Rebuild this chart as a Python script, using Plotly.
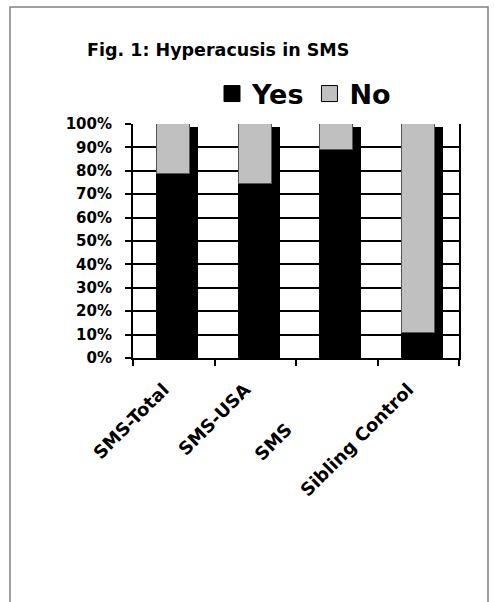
import plotly.graph_objects as go

# ---- data ----
categories = ["SMS-Total", "SMS-USA", "SMS", "Sibling Control"]
yes_pct = [78.5, 74.5, 89.0, 10.5]
no_pct = [21.5, 25.5, 11.0, 89.5]
series_names = ["Yes", "No"]
y_ticks = [0, 10, 20, 30, 40, 50, 60, 70, 80, 90, 100]
y_tick_labels = [f"{v}%" for v in y_ticks]
title_text = "Fig. 1: Hyperacusis in SMS"

# ---- layout geometry (pixels) ----
W, H = 494, 602
PL, PR, PT, PB = 133, 459, 124, 358   # plot area edges


def px_x(p):
    return (p - PL) / (PR - PL)


def px_y(p):
    return (PB - p) / (PB - PT)


FONT = "DejaVu Sans"
BAR_W = 0.405
SHADOW_DX = 0.098   # in category units
SHADOW_DY = 1.3     # in percent units

totals = [a + b for a, b in zip(yes_pct, no_pct)]
# x labels: third label padded so it sits like the original
tick_text = [c if c != "SMS" else c + "\u00a0" * 9 for c in categories]

fig = go.Figure()

# shadow (3-D effect)
fig.add_trace(go.Bar(
    x=categories, y=totals, base=[-SHADOW_DY] * len(totals),
    width=BAR_W, offset=-BAR_W / 2 + SHADOW_DX,
    marker=dict(color="black", line=dict(width=0)),
    showlegend=False, hoverinfo="skip",
))
# Yes
fig.add_trace(go.Bar(
    x=categories, y=yes_pct, base=[0] * len(yes_pct),
    width=BAR_W, offset=-BAR_W / 2,
    marker=dict(color="black", line=dict(color="black", width=1)),
    name=series_names[0], showlegend=False,
))
# No
fig.add_trace(go.Bar(
    x=categories, y=no_pct, base=yes_pct,
    width=BAR_W, offset=-BAR_W / 2,
    marker=dict(color="#C0C0C0", line=dict(color="#555555", width=1)),
    name=series_names[1], showlegend=False,
))
# legend entries
for nm, col in zip(series_names, ["black", "#C0C0C0"]):
    fig.add_trace(go.Scatter(
        x=[None], y=[None], mode="markers", name=nm,
        marker=dict(symbol="square", size=16, color=col,
                    line=dict(color="black", width=1)),
    ))

fig.update_layout(
    width=W, height=H,
    margin=dict(l=PL, r=W - PR, t=PT, b=H - PB, pad=0),
    paper_bgcolor="white", plot_bgcolor="white",
    barmode="overlay", bargap=0,
    title=dict(text=title_text, x=87 / W, xanchor="left", xref="container",
               y=1 - 50 / H, yanchor="middle", yref="container",
               font=dict(family=FONT, size=17.5, weight="bold", color="black")),
    legend=dict(orientation="h", x=px_x(212), xanchor="left",
                y=px_y(94), yanchor="middle",
                font=dict(family=FONT, size=27, weight="bold", color="black"),
                bgcolor="rgba(0,0,0,0)", itemwidth=30, tracegroupgap=0),
    xaxis=dict(type="category", tickson="boundaries", ticks="outside",
               ticklen=6, tickwidth=1.5, tickcolor="black",
               showline=True, linecolor="black", linewidth=2, mirror=False,
               showgrid=False, tickangle=-45,
               tickmode="array", tickvals=categories, ticktext=tick_text,
               tickfont=dict(family=FONT, size=18, weight="bold", color="black"),
               ticklabelstandoff=12, ticklabelshift=-10, range=[-0.5, 3.5]),
    yaxis=dict(range=[0, 100], tickmode="array", tickvals=y_ticks,
               ticktext=y_tick_labels, ticks="outside", ticklen=6,
               tickwidth=1.5, tickcolor="black",
               showline=True, linecolor="black", linewidth=2, mirror=True,
               showgrid=True, gridcolor="black", gridwidth=1.8,
               zeroline=False,
               tickfont=dict(family=FONT, size=15, weight="bold", color="black"),
               ticklabelstandoff=10),
    shapes=[dict(type="rect", xref="paper", yref="paper",
                 x0=px_x(10), x1=px_x(488), y0=px_y(640), y1=px_y(7),
                 line=dict(color="#808080", width=1.5), layer="below")],
)

fig.write_html("out.html")
